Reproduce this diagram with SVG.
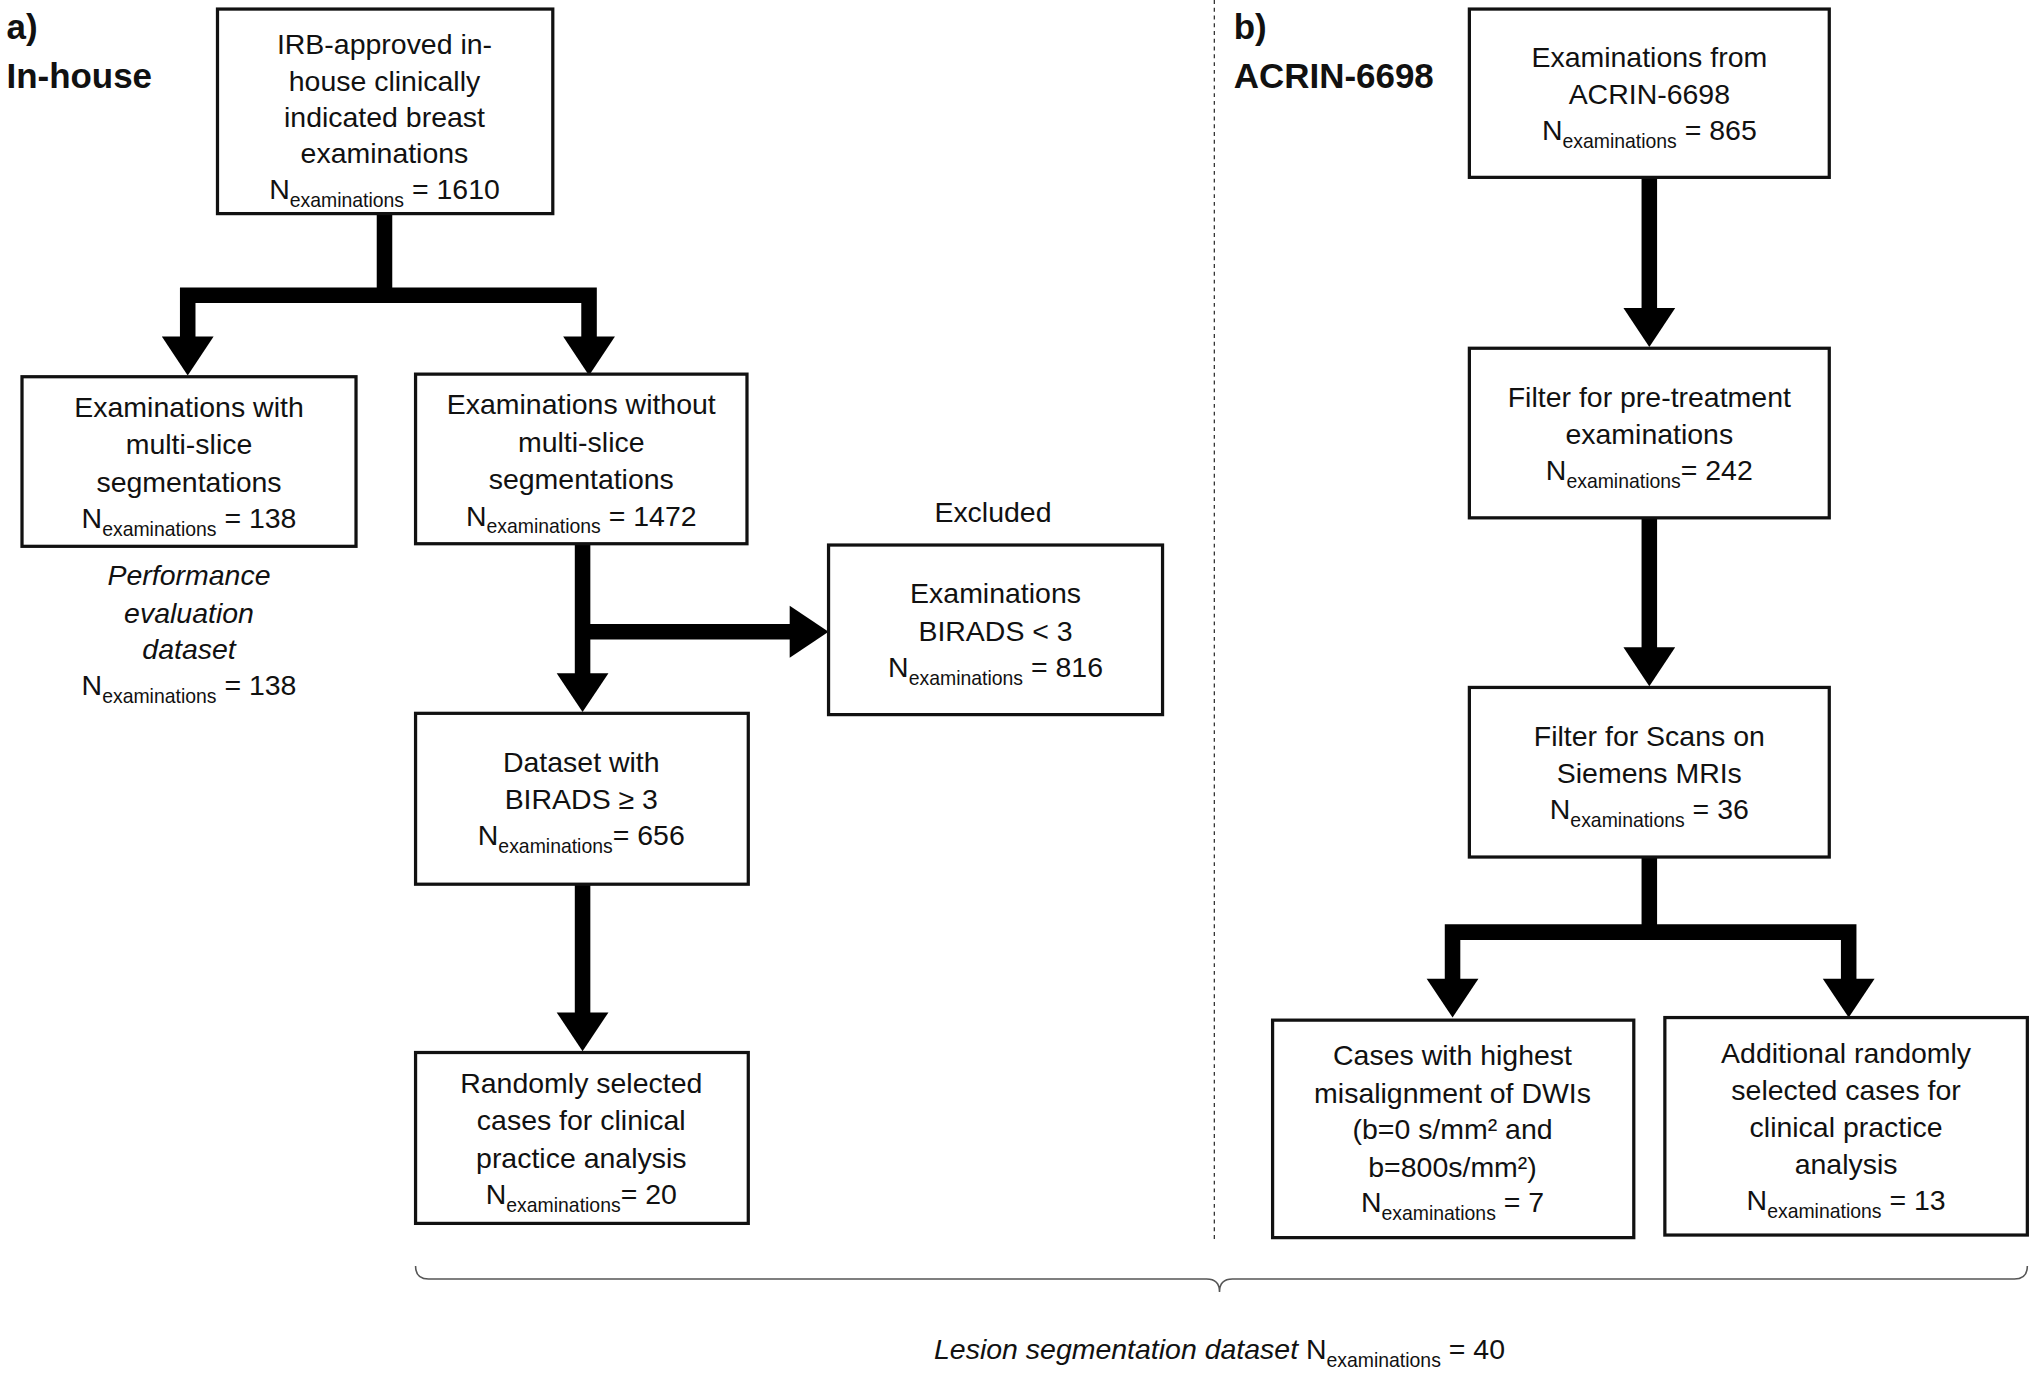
<svg xmlns="http://www.w3.org/2000/svg" width="2030" height="1377" viewBox="0 0 2030 1377">
<defs>
<style>
text{font-family:"Liberation Sans",Arial,sans-serif;font-size:22px;fill:#111;text-anchor:middle}
.sub{font-size:15px}
.it{font-style:italic}
.hd{font-weight:bold;font-size:27px;text-anchor:start}
rect{fill:#fff;stroke:#111;stroke-width:2.5}
.con{stroke:#000;stroke-width:12;fill:none}
.ah{fill:#000}
</style>
</defs>
<rect x="0" y="0" width="2030" height="1377" style="stroke:none"/>
<g transform="scale(1.2946)">
<g id="connectors">
<path class="con" d="M297 165V228M145 228H455M145 222V262M455 222V262"/>
<polygon class="ah" points="125,260 165,260 145,290"/>
<polygon class="ah" points="435,260 475,260 455,290"/>
<path class="con" d="M450 420V522M450 488H612"/>
<polygon class="ah" points="430,520 470,520 450,550"/>
<polygon class="ah" points="610,468 610,508 640,488"/>
<path class="con" d="M450 683V784"/>
<polygon class="ah" points="430,782 470,782 450,812"/>
<path class="con" d="M1274 137V240"/>
<polygon class="ah" points="1254,238 1294,238 1274,268"/>
<path class="con" d="M1274 400V502"/>
<polygon class="ah" points="1254,500 1294,500 1274,530"/>
<path class="con" d="M1274 662V720M1122 720H1428M1122 714V758M1428 714V758"/>
<polygon class="ah" points="1102,756 1142,756 1122,786"/>
<polygon class="ah" points="1408,756 1448,756 1428,786"/>
<path d="M938 0V958" stroke="#333" stroke-width="1" stroke-dasharray="3,3" fill="none"/>
<path d="M321 978Q321 988 331 988H932Q942 988 942 998Q942 988 952 988H1556Q1566 988 1566 978" stroke="#555" stroke-width="1.2" fill="none"/>
</g>
<text class="hd" x="5" y="30">a)</text>
<text class="hd" x="5" y="68">In-house</text>
<text class="hd" x="953" y="30">b)</text>
<text class="hd" x="953" y="68">ACRIN-6698</text>
<g id="n1"><rect x="168" y="7" width="259" height="158"/>
<text x="297" y="42">IRB-approved in-</text><text x="297" y="70">house clinically</text><text x="297" y="98">indicated breast</text><text x="297" y="126">examinations</text>
<text x="297" y="154">N<tspan class="sub" dy="6">examinations</tspan><tspan dy="-6"> = 1610</tspan></text></g>
<g id="n2"><rect x="17" y="291" width="258" height="131"/>
<text x="146" y="322">Examinations with</text><text x="146" y="351">multi-slice</text><text x="146" y="380">segmentations</text>
<text x="146" y="408">N<tspan class="sub" dy="6">examinations</tspan><tspan dy="-6"> = 138</tspan></text></g>
<g id="perf"><text class="it" x="146" y="452">Performance</text><text class="it" x="146" y="481">evaluation</text><text class="it" x="146" y="509">dataset</text>
<text x="146" y="537">N<tspan class="sub" dy="6">examinations</tspan><tspan dy="-6"> = 138</tspan></text></g>
<g id="n3"><rect x="321" y="289" width="256" height="131"/>
<text x="449" y="320">Examinations without</text><text x="449" y="349">multi-slice</text><text x="449" y="378">segmentations</text>
<text x="449" y="406">N<tspan class="sub" dy="6">examinations</tspan><tspan dy="-6"> = 1472</tspan></text></g>
<text x="767" y="403">Excluded</text>
<g id="n4"><rect x="640" y="421" width="258" height="131"/>
<text x="769" y="466">Examinations</text><text x="769" y="495">BIRADS &lt; 3</text>
<text x="769" y="523">N<tspan class="sub" dy="6">examinations</tspan><tspan dy="-6"> = 816</tspan></text></g>
<g id="n5"><rect x="321" y="551" width="257" height="132"/>
<text x="449" y="596">Dataset with</text><text x="449" y="625">BIRADS ≥ 3</text>
<text x="449" y="653">N<tspan class="sub" dy="6">examinations</tspan><tspan dy="-6">= 656</tspan></text></g>
<g id="n6"><rect x="321" y="813" width="257" height="132"/>
<text x="449" y="844">Randomly selected</text><text x="449" y="873">cases for clinical</text><text x="449" y="902">practice analysis</text>
<text x="449" y="930">N<tspan class="sub" dy="6">examinations</tspan><tspan dy="-6">= 20</tspan></text></g>
<g id="n7"><rect x="1135" y="7" width="278" height="130"/>
<text x="1274" y="52">Examinations from</text><text x="1274" y="80">ACRIN-6698</text>
<text x="1274" y="108">N<tspan class="sub" dy="6">examinations</tspan><tspan dy="-6"> = 865</tspan></text></g>
<g id="n8"><rect x="1135" y="269" width="278" height="131"/>
<text x="1274" y="314">Filter for pre-treatment</text><text x="1274" y="343">examinations</text>
<text x="1274" y="371">N<tspan class="sub" dy="6">examinations</tspan><tspan dy="-6">= 242</tspan></text></g>
<g id="n9"><rect x="1135" y="531" width="278" height="131"/>
<text x="1274" y="576">Filter for Scans on</text><text x="1274" y="605">Siemens MRIs</text>
<text x="1274" y="633">N<tspan class="sub" dy="6">examinations</tspan><tspan dy="-6"> = 36</tspan></text></g>
<g id="n10"><rect x="983" y="788" width="279" height="168"/>
<text x="1122" y="823">Cases with highest</text><text x="1122" y="852">misalignment of DWIs</text><text x="1122" y="880">(b=0 s/mm² and</text><text x="1122" y="909">b=800s/mm²)</text>
<text x="1122" y="936">N<tspan class="sub" dy="6">examinations</tspan><tspan dy="-6"> = 7</tspan></text></g>
<g id="n11"><rect x="1286" y="786" width="280" height="168"/>
<text x="1426" y="821">Additional randomly</text><text x="1426" y="850">selected cases for</text><text x="1426" y="878">clinical practice</text><text x="1426" y="907">analysis</text>
<text x="1426" y="935">N<tspan class="sub" dy="6">examinations</tspan><tspan dy="-6"> = 13</tspan></text></g>
<g id="bottom"><text x="942" y="1050"><tspan class="it">Lesion segmentation dataset</tspan> N<tspan class="sub" dy="6">examinations</tspan><tspan dy="-6"> = 40</tspan></text></g>
</g>
</svg>
